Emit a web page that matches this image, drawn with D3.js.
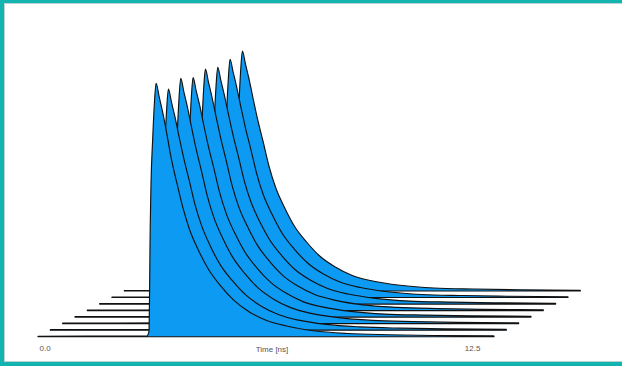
<!DOCTYPE html>
<html>
<head>
<meta charset="utf-8">
<script src="https://cdn.jsdelivr.net/npm/d3@7"></script>
<style>
  html, body { margin: 0; padding: 0; background: #fff; }
  svg { display: block; }
</style>
</head>
<body>
<svg id="chart" width="622" height="366"></svg>
<script>
// time grid (ns) shared by all decay traces
const times = [0, 3.20, 3.26, 3.30, 3.32, 3.37, 3.42, 3.47, 3.56, 3.66, 3.78, 3.92, 4.08,
  4.25, 4.45, 4.70, 5.00, 5.35, 5.75, 6.20, 6.70, 7.30, 8.10, 9.10, 10.3, 11.6, 13.4];

// counts per trace, front (trace1) to back (trace8)
const trace1 = [2, 3, 20, 456, 608, 791, 933, 1014, 960, 900, 815, 710, 615, 520, 430, 350, 272, 206, 146, 100, 66, 43, 24, 13, 8, 5, 3];
const trace2 = [2, 2, 19, 434, 578, 752, 887, 964, 912, 855, 776, 688, 600, 503, 416, 337, 260, 198, 140, 96, 63, 40, 23, 13, 8, 5, 3];
const trace3 = [2, 3, 20, 441, 589, 765, 903, 981, 928, 870, 790, 700, 610, 511, 422, 343, 265, 201, 142, 98, 64, 41, 24, 13, 8, 5, 3];
const trace4 = [2, 2, 19, 431, 575, 747, 881, 958, 906, 850, 771, 683, 596, 499, 412, 335, 259, 196, 139, 96, 62, 40, 23, 12, 8, 5, 3];
const trace5 = [2, 3, 19, 435, 580, 753, 889, 966, 914, 856, 778, 690, 601, 503, 415, 338, 261, 198, 140, 97, 63, 41, 23, 13, 8, 5, 3];
const trace6 = [2, 2, 19, 426, 568, 739, 871, 947, 896, 839, 762, 676, 589, 493, 407, 331, 256, 194, 137, 95, 62, 40, 23, 12, 8, 5, 3];
const trace7 = [2, 3, 19, 429, 572, 743, 877, 953, 902, 845, 767, 680, 593, 497, 410, 334, 257, 195, 138, 95, 62, 40, 23, 12, 8, 5, 3];
const trace8 = [2, 2, 19, 432, 576, 749, 883, 960, 908, 851, 773, 685, 597, 500, 413, 336, 259, 197, 139, 96, 62, 40, 23, 12, 8, 5, 3];

const traces = [trace1, trace2, trace3, trace4, trace5, trace6, trace7, trace8];
const tickValues = [0, 12.5];
const axisTitle = 'Time [ns]';

const svg = d3.select('#chart');
const W = 622, H = 366;

svg.append('rect').attr('width', W).attr('height', H).attr('fill', '#fff');

// frame
const teal = '#13b3b0';
svg.append('rect').attr('x', 0).attr('y', 0).attr('width', W).attr('height', 3).attr('fill', teal);
svg.append('rect').attr('x', 0).attr('y', 0).attr('width', 4).attr('height', H).attr('fill', teal);
svg.append('rect').attr('x', 0).attr('y', 362).attr('width', W).attr('height', 4).attr('fill', teal);
svg.append('path')
    .attr('d', `M4.5,${H - 4}V3.5H${W}M4.5,361.5H${W}`)
    .attr('fill', 'none')
    .attr('stroke', '#b9d3d2')
    .attr('stroke-width', 1);

const x = d3.scaleLinear().domain([0, 13.4]).range([38, 494]);
const h = d3.scaleLinear().domain([0, 1000]).range([0, 250]);
// waterfall offsets per trace index
const offX = d3.scaleLinear().domain([0, 7]).range([0, 86.3]);
const offY = d3.scaleLinear().domain([0, 7]).range([336.7, 291]);

const g = svg.append('g');

// back to front so front fills cover the rear traces
d3.range(traces.length - 1, -1, -1).forEach(k => {
  const vals = traces[k];
  const area = d3.area()
      .curve(d3.curveMonotoneX)
      .x((d, i) => x(times[i]) + offX(k))
      .y0(offY(k))
      .y1((d) => offY(k) - h(d));
  g.append('path')
      .datum(vals)
      .attr('d', area)
      .attr('fill', '#0d9af2')
      .attr('stroke', '#111')
      .attr('stroke-width', 1.15)
      .attr('stroke-linejoin', 'round');
});

// x axis: labels only
const axis = svg.append('g')
    .attr('transform', `translate(0,${offY(0)})`)
    .call(d3.axisBottom(x).tickValues(tickValues).tickSize(0).tickPadding(9).tickFormat(d3.format('.1f')));
axis.select('.domain').remove();
axis.selectAll('text')
    .attr('text-anchor', 'start')
    .attr('x', 1)
    .attr('fill', '#555')
    .style('font-family', 'Liberation Sans, Arial, sans-serif')
    .style('font-size', '8px');

svg.append('text')
    .attr('x', 272)
    .attr('y', 352)
    .attr('text-anchor', 'middle')
    .attr('fill', '#555')
    .style('font-family', 'Liberation Sans, Arial, sans-serif')
    .style('font-size', '8px')
    .text(axisTitle);
</script>
</body>
</html>
